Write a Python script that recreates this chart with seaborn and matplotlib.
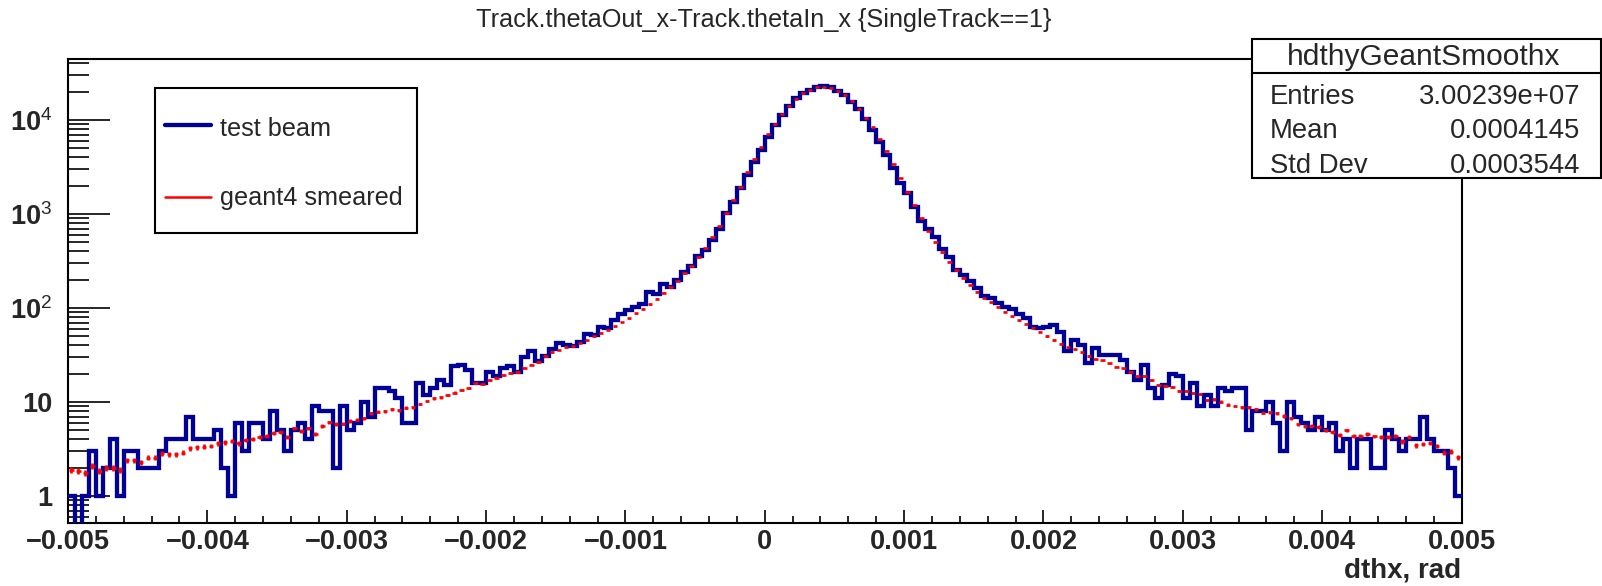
import numpy as np
import pandas as pd
import matplotlib
matplotlib.use("Agg")
import matplotlib.pyplot as plt
import seaborn as sns
from matplotlib.patches import Rectangle
from matplotlib.lines import Line2D
from matplotlib.ticker import MultipleLocator, FixedLocator, FixedFormatter, LogLocator, NullFormatter

# ---------------------------------------------------------------- data
x_min, x_max, n_bins = -0.005, 0.005, 200

# test beam: counts per bin (200 bins of 5e-5 rad)
test_beam = [
    1, 0, 1, 3, 1, 2, 4, 1, 3, 3, 2, 2, 2, 3, 4, 4, 4, 7, 4, 4,
    4, 5, 2, 1, 6, 3, 6, 6, 4, 8, 5, 3, 5, 6, 4, 9, 8, 8, 2, 9,
    5, 6, 10, 7, 14, 14, 13, 11, 6, 6, 16, 12, 14, 17, 15, 24, 25, 22, 16, 16,
    21, 19, 23, 24, 21, 30, 35, 27, 31, 37, 42, 40, 39, 44, 53, 51, 63, 61, 74, 87,
    95, 102, 110, 149, 140, 179, 166, 199, 244, 280, 354, 415, 530, 687, 1017, 1350, 1870, 2600, 3600, 4800,
    6600, 8850, 11300, 14000, 17000, 19200, 21100, 22600, 23000, 22200, 20600, 18500, 15700, 13000, 10200, 7800, 5900, 4250, 3070, 2150,
    1660, 1197, 850, 687, 565, 421, 346, 254, 224, 194, 162, 134, 127, 112, 103, 97, 86, 79, 63, 61,
    63, 66, 56, 35, 46, 40, 26, 38, 32, 32, 32, 28, 21, 17, 25, 14, 11, 15, 20, 19,
    11, 16, 9, 12, 9, 14, 13, 14, 14, 5, 8, 8, 10, 6, 3, 10, 7, 6, 5, 7,
    5, 6, 3, 4, 2, 4, 4, 2, 2, 5, 4, 3, 4, 4, 7, 4, 3, 3, 2, 1,
]

# geant4 smeared, normalised to the test beam
geant4_smeared = [
    1.89, 1.85, 1.77, 2.08, 1.85, 2.0, 2.0, 1.89, 2.4, 2.4, 2.28, 2.56, 2.56, 2.84, 2.77, 2.77, 2.89, 3.21, 3.29, 3.35,
    3.43, 3.63, 3.72, 3.88, 3.63, 3.94, 4.0, 4.2, 4.38, 4.64, 4.76, 4.27, 5.25, 4.95, 5.25, 4.56, 5.55, 6.1, 5.83, 5.9,
    6.3, 6.5, 6.7, 7.6, 7.9, 8.0, 8.4, 8.2, 8.7, 8.8, 9.5, 10.2, 10.9, 11.2, 11.8, 12.6, 13.4, 14.0, 15.8, 15.4,
    17.1, 18.1, 19.3, 20.4, 21.0, 23.0, 25.0, 26.5, 30.7, 34.0, 36.0, 38.6, 39.0, 42.6, 45.5, 50.0, 54.6, 59.0, 64.0, 71.0,
    78, 88, 98, 109, 126, 146, 169, 195, 234, 280, 346, 435, 565, 752, 1017, 1409, 1953, 2775, 3815, 5200,
    7030, 9140, 11580, 14200, 16700, 19200, 20800, 22300, 22600, 22100, 20400, 18500, 15800, 13200, 10600, 8360, 6280, 4680, 3375, 2440,
    1728, 1247, 900, 665, 500, 391, 311, 254, 210, 176, 149, 129, 115, 103, 91, 82, 74.5, 67.6, 61.8, 56.0,
    50.4, 45.7, 41.7, 38.2, 36.3, 33.7, 30.9, 28.4, 27.7, 25.8, 23.8, 22.8, 21.0, 19.1, 18.9, 17.1, 15.2, 14.8, 14.3, 13.2,
    13.1, 12.4, 12.2, 10.5, 10.7, 10.1, 9.4, 9.1, 8.8, 8.8, 8.4, 7.7, 7.8, 7.6, 7.1, 6.7, 5.8, 5.5, 5.6, 5.4,
    5.0, 4.8, 4.5, 5.0, 4.35, 4.4, 4.6, 4.3, 4.2, 4.2, 4.35, 3.8, 4.2, 3.46, 3.6, 3.7, 3.4, 2.9, 2.96, 2.6,
]

x_ticks = [-0.005, -0.004, -0.003, -0.002, -0.001, 0.0, 0.001, 0.002, 0.003, 0.004, 0.005]
x_tick_labels = ["\u22120.005", "\u22120.004", "\u22120.003", "\u22120.002", "\u22120.001",
                 "0", "0.001", "0.002", "0.003", "0.004", "0.005"]
y_ticks = [1, 10, 100, 1000, 10000]
y_tick_labels = ["1", "10", r"$\mathbf{10}^{\mathrm{2}}$", r"$\mathbf{10}^{\mathrm{3}}$",
                 r"$\mathbf{10}^{\mathrm{4}}$"]

title = "Track.thetaOut_x-Track.thetaIn_x {SingleTrack==1}"
x_title = "dthx, rad"
series_names = ["test beam", "geant4 smeared"]
stats_name = "hdthyGeantSmoothx"
stats_rows = [("Entries", "3.00239e+07"), ("Mean", "0.0004145"), ("Std Dev", "0.0003544")]

# ---------------------------------------------------------------- style
sns.set_style("white")
plt.rcParams["font.family"] = ["Liberation Sans", "DejaVu Sans"]
plt.rcParams["mathtext.fontset"] = "custom"
plt.rcParams["mathtext.rm"] = "Liberation Sans"
plt.rcParams["mathtext.bf"] = "Liberation Sans:bold"
plt.rcParams["axes.unicode_minus"] = True

BLUE = "#000099"
RED = "#ff0000"
W, H = 1602, 586

fig = plt.figure(figsize=(W / 100, H / 100), dpi=100)
fig.patch.set_facecolor("white")


def fx(px):
    return px / W


def fy(py):
    return 1 - py / H


ax_l, ax_r, ax_t, ax_b = 68, 1461.5, 59, 523
ax = fig.add_axes([fx(ax_l), fy(ax_b), fx(ax_r - ax_l), (ax_b - ax_t) / H])

edges = np.linspace(x_min, x_max, n_bins + 1)
centers = 0.5 * (edges[:-1] + edges[1:])
bw = edges[1] - edges[0]
tb = np.asarray(test_beam, dtype=float)
g4 = np.asarray(geant4_smeared, dtype=float)
hist_df = pd.DataFrame({"dthx": centers, "counts": tb})

sns.histplot(data=hist_df, x="dthx", weights="counts", bins=n_bins,
             binrange=(x_min, x_max), element="step", fill=False,
             color=BLUE, linewidth=3.1, ax=ax, zorder=3)
for ln in ax.lines:
    ln.set_solid_joinstyle("miter")

# smeared simulation drawn as points with (scaled) statistical errors
ax.errorbar(centers, g4, xerr=0.32 * bw, yerr=0.1 * np.sqrt(g4), fmt="none",
            ecolor=RED, elinewidth=1.9, capsize=0, zorder=4)

ax.set_yscale("log")
ax.set_xlim(x_min, x_max)
ax.set_ylim(0.516, 44600)
ax.set_ylabel("")
ax.set_xlabel("")

for s in ax.spines.values():
    s.set_linewidth(1.5)
    s.set_color("black")
    s.set_visible(True)

ax.xaxis.set_major_locator(FixedLocator(x_ticks))
ax.xaxis.set_major_formatter(FixedFormatter(x_tick_labels))
ax.xaxis.set_minor_locator(MultipleLocator(0.0002))
ax.yaxis.set_major_locator(FixedLocator(y_ticks))
ax.yaxis.set_major_formatter(FixedFormatter(y_tick_labels))
ax.yaxis.set_minor_locator(LogLocator(base=10, subs=np.arange(2, 10), numticks=20))
ax.yaxis.set_minor_formatter(NullFormatter())

ax.tick_params(axis="x", which="major", direction="in", length=9.5, width=1.4,
               pad=4, labelsize=19.5, bottom=True, top=False)
ax.tick_params(axis="x", which="minor", direction="in", length=4.8, width=1.4,
               bottom=True, top=False)
ax.tick_params(axis="y", which="major", direction="in", length=30, width=1.4,
               pad=11.5, labelsize=19.5, left=True, right=False)
ax.tick_params(axis="y", which="minor", direction="in", length=15, width=1.4,
               left=True, right=False)
for lab in ax.get_xticklabels() + ax.get_yticklabels():
    lab.set_fontweight("bold")

# ---------------------------------------------------------------- texts
fig.text(fx(764), fy(19.5), title, ha="center", va="center", fontsize=18.2)
fig.text(fx(1461), fy(578), x_title, ha="right", va="baseline",
         fontsize=20, fontweight="bold")

# legend box
fig.add_artist(Rectangle((fx(155), fy(233)), fx(417 - 155), (233 - 88) / H,
                         transform=fig.transFigure, fc="white", ec="black", lw=1.5, zorder=5))
fig.add_artist(Line2D([fx(165), fx(211)], [fy(125), fy(125)], transform=fig.transFigure,
                      color=BLUE, lw=3.1, zorder=6))
fig.add_artist(Line2D([fx(165), fx(211)], [fy(197), fy(197)], transform=fig.transFigure,
                      color=RED, lw=1.8, zorder=6))
fig.text(fx(220), fy(136.5), series_names[0], ha="left", va="baseline", fontsize=18.2, zorder=7)
fig.text(fx(220), fy(205), series_names[1], ha="left", va="baseline", fontsize=18.2, zorder=7)

# statistics box
fig.add_artist(Rectangle((fx(1252), fy(178)), fx(1601 - 1252), (178 - 39) / H,
                         transform=fig.transFigure, fc="white", ec="black", lw=1.5, zorder=5))
fig.add_artist(Line2D([fx(1252), fx(1601)], [fy(73), fy(73)], transform=fig.transFigure,
                      color="black", lw=1.5, zorder=6))
fig.text(fx(1424), fy(65), stats_name, ha="center", va="baseline", fontsize=21.5, zorder=7)
for k, (name, val) in enumerate(stats_rows):
    yb = 104 + 34.3 * k
    fig.text(fx(1270), fy(yb), name, ha="left", va="baseline", fontsize=19.8, zorder=7)
    fig.text(fx(1580), fy(yb), val, ha="right", va="baseline", fontsize=19.8, zorder=7)

fig.savefig("out.png", dpi=100, facecolor="white")
